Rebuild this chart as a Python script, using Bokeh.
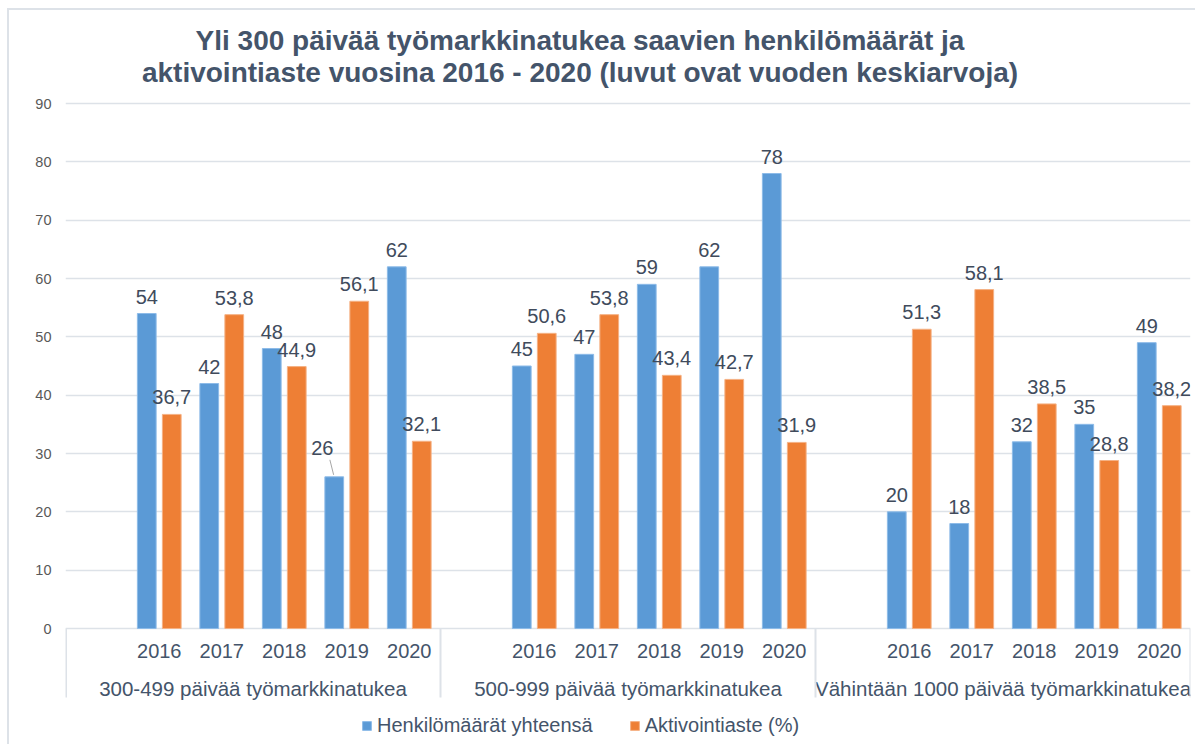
from bokeh.plotting import figure
from bokeh.models import ColumnDataSource, FactorRange, FixedTicker, Legend, LegendItem
from bokeh.transform import dodge
from bokeh.core.properties import value
from bokeh.embed import file_html
from bokeh.resources import INLINE

# ---------------- data ----------------
groups = ["300-499 päivää työmarkkinatukea",
          "500-999 päivää työmarkkinatukea",
          "Vähintään 1000 päivää työmarkkinatukea"]
years = ["2016", "2017", "2018", "2019", "2020"]

henkilot_300_499 = [54, 42, 48, 26, 62]
henkilot_500_999 = [45, 47, 59, 62, 78]
henkilot_1000 = [20, 18, 32, 35, 49]

aktivointi_300_499 = [36.7, 53.8, 44.9, 56.1, 32.1]
aktivointi_500_999 = [50.6, 53.8, 43.4, 42.7, 31.9]
aktivointi_1000 = [51.3, 58.1, 38.5, 28.8, 38.2]

y_ticks = [0, 10, 20, 30, 40, 50, 60, 70, 80, 90]

series_names = ["Henkilömäärät yhteensä", "Aktivointiaste (%)"]
title_lines = ["Yli 300 päivää työmarkkinatukea saavien henkilömäärät ja",
               "aktivointiaste vuosina 2016 - 2020 (luvut ovat vuoden keskiarvoja)"]

# label that Excel moved aside with a leader line
leader_label = (groups[0], "2019")

# ---------------- styling / layout ----------------
BLUE = "#5b9ad6"
BLUE_EDGE = "#8dbbe8"
ORANGE = "#ee7f35"
ORANGE_EDGE = "#f5b184"
TXT = "#44546a"
LBL = "#404b5c"
GRID = "#dde2e8"
FONT = "Liberation Sans"

PX = 525.0 / 90.0          # pixels per y unit
Y_TOP = 618.0 / PX         # frame top (canvas top) in data units
Y_BOTTOM = -114.0 / PX     # frame bottom in data units

def px_to_y(px_below_zero):
    return -px_below_zero / PX

henkilot = henkilot_300_499 + henkilot_500_999 + henkilot_1000
aktivointi = aktivointi_300_499 + aktivointi_500_999 + aktivointi_1000
xs = [(g, y) for g in groups for y in years]

def fmt(v):
    return ("%g" % v).replace(".", ",")

factors = []
for g in groups:
    factors.append((g, ""))
    for y in years:
        factors.append((g, y))

x_range = FactorRange(factors=factors, group_padding=0, factor_padding=0,
                      subgroup_padding=0, range_padding=0)

p = figure(width=1188, height=736, x_range=x_range, y_range=(Y_BOTTOM, Y_TOP),
           output_backend="svg", toolbar_location=None,
           min_border_left=56, min_border_right=7, min_border_top=0,
           min_border_bottom=4)
p.background_fill_color = "white"
p.border_fill_color = "white"
p.outline_line_color = None
p.styles = {"border-top": "2px solid #dde2e8", "border-left": "2px solid #dde2e8",
            "margin-top": "8px", "margin-left": "7px"}

# axes
p.xaxis.visible = False
p.xgrid.visible = False
yax = p.yaxis[0]
yax.ticker = FixedTicker(ticks=y_ticks)
yax.axis_line_color = None
yax.major_tick_line_color = None
yax.minor_tick_line_color = None
yax.major_label_standoff = 8
yax.major_label_text_font = FONT
yax.major_label_text_font_size = "14.5px"
yax.major_label_text_color = "#595959"
p.ygrid.ticker = FixedTicker(ticks=y_ticks)
p.ygrid.grid_line_color = GRID
p.ygrid.grid_line_width = 1.5

# title (two lines, centred a little left of the plot centre like the original)
p.text(x=[groups[1], groups[1]], y=[px_to_y(-588), px_to_y(-556)], text=title_lines,
       x_offset=-48, text_font=value(FONT), text_font_style="bold",
       text_font_size="28px", text_color=TXT, text_align="center",
       text_baseline="middle")

# bars
src = ColumnDataSource(dict(x=xs, henk=henkilot, akt=aktivointi))
r1 = p.vbar(x=dodge("x", -0.2, range=p.x_range), top="henk", width=0.3, source=src,
            fill_color=BLUE, line_color=BLUE_EDGE, line_width=1)
r2 = p.vbar(x=dodge("x", 0.2, range=p.x_range), top="akt", width=0.3, source=src,
            fill_color=ORANGE, line_color=ORANGE_EDGE, line_width=1)

# data labels
norm_b = dict(x=[], y=[], t=[])
lead_b = dict(x=[], y=[], t=[], y0=[], y1=[])
for x, v in zip(xs, henkilot):
    if x == leader_label:
        lead_b["x"].append(x); lead_b["y"].append(v); lead_b["t"].append(fmt(v))
        lead_b["y0"].append(v + 17.0 / PX); lead_b["y1"].append(v + 2.0 / PX)
    else:
        norm_b["x"].append(x); norm_b["y"].append(v); norm_b["t"].append(fmt(v))
norm_o = dict(x=list(xs), y=list(aktivointi), t=[fmt(v) for v in aktivointi])

common = dict(text_font=value(FONT), text_font_size="20px", text_color=LBL,
              text_align="center", text_baseline="middle")
p.text(x=dodge("x", -0.2, range=p.x_range), y="y", text="t", y_offset=-17,
       source=ColumnDataSource(norm_b), **common)
p.text(x=dodge("x", 0.2, range=p.x_range), y="y", text="t", y_offset=-17,
       source=ColumnDataSource(norm_o), **common)
lead_src = ColumnDataSource(lead_b)
p.text(x=dodge("x", -0.2, range=p.x_range), y="y", text="t", x_offset=-12, y_offset=-29,
       source=lead_src, **common)
p.segment(x0=dodge("x", -0.27, range=p.x_range), y0="y0",
          x1=dodge("x", -0.21, range=p.x_range), y1="y1",
          source=lead_src, line_color="#a6a6a6", line_width=1)

# category axis drawn inside the frame below zero
YEAR_Y = px_to_y(22)
GROUP_Y = px_to_y(60)
SEP_BOTTOM = px_to_y(69)
p.text(x="x", y=YEAR_Y, text="t", source=ColumnDataSource(dict(x=xs, t=[x[1] for x in xs])),
       text_font=value(FONT), text_font_size="20px", text_color=TXT,
       text_align="center", text_baseline="middle")
p.text(x="x", y=GROUP_Y, text="x", source=ColumnDataSource(dict(x=groups)),
       text_font=value(FONT), text_font_size="20.5px", text_color=TXT,
       text_align="center", text_baseline="middle")
sep_src = ColumnDataSource(dict(x=groups))
p.segment(x0=dodge("x", 3.0, range=p.x_range), x1=dodge("x", 3.0, range=p.x_range),
          y0=0, y1=SEP_BOTTOM, source=sep_src, line_color=GRID, line_width=2)
p.segment(x0=dodge("x", -3.0, range=p.x_range), x1=dodge("x", -3.0, range=p.x_range),
          y0=0, y1=SEP_BOTTOM, source=ColumnDataSource(dict(x=groups[:1])),
          line_color=GRID, line_width=3)

# legend
legend = Legend(items=[LegendItem(label=series_names[0], renderers=[r1]),
                       LegendItem(label=series_names[1], renderers=[r2])],
                orientation="horizontal", location=(296, 5),
                glyph_width=11, glyph_height=11, label_standoff=5, spacing=36,
                padding=0, margin=0, border_line_color=None,
                background_fill_alpha=0,
                label_text_font=FONT, label_text_font_size="20px", label_text_color=TXT,
                label_height=20)
p.add_layout(legend, "center")

open("out.html", "w").write(file_html(p, INLINE))
